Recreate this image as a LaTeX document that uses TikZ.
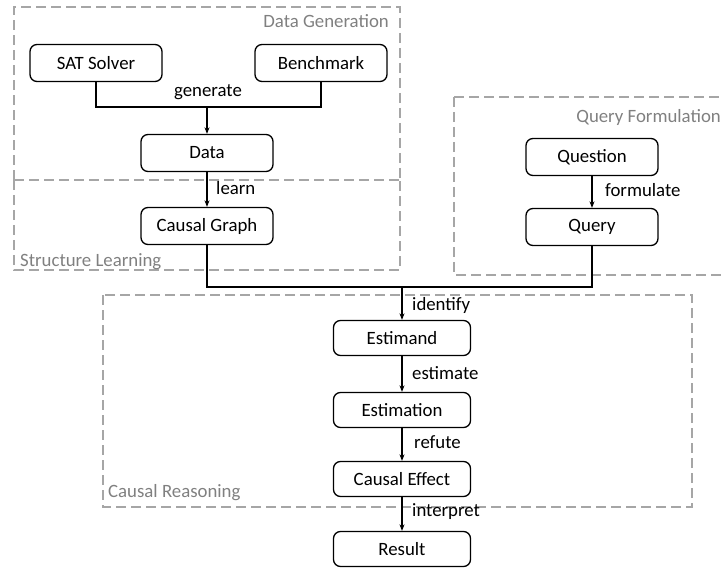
\documentclass[tikz,border=0pt]{standalone}
\usepackage{fontspec}
\setmainfont{Carlito}
\usetikzlibrary{arrows.meta}
\begin{document}
\begin{tikzpicture}[x=1pt,y=-1pt,
  every node/.style={font=\fontsize{18.8}{22}\selectfont},
  box/.style={draw,line width=1.3pt,rounded corners=7pt,minimum width=132pt,minimum height=37pt,inner sep=0pt},
  wbox/.style={box,minimum width=137pt,minimum height=35pt},
  grp/.style={draw=black!35,line width=1.3pt,dash pattern=on 10pt off 5pt},
  grplbl/.style={text=black!50,inner sep=0pt},
  conn/.style={line width=1.3pt},
  arr/.style={line width=1.3pt,-{Stealth[length=6.5pt,width=5pt]}},
  lbl/.style={inner sep=0pt}]
\useasboundingbox (0,0) rectangle (723,572);
% groups
\draw[grp] (14,180) -- (14,7) -- (400,7) -- (400,180);
\draw[grp] (14,180) -- (400,180);
\draw[grp] (14,180) -- (14,270) -- (400,270) -- (400,180);
\draw[grp] (454,97) -- (724,97);
\draw[grp] (454,97) -- (454,275) -- (724,275);
\draw[grp] (103,295) rectangle (692,507);
\node[grplbl,anchor=east] (gdg) at (389,21) {Data Generation};
\node[grplbl,anchor=west] (gsl) at (20,262) {Structure Learning};
\node[grplbl,anchor=east] (gqf) at (721,117) {Query Formulation};
\node[grplbl,anchor=west] (gcr) at (108,493) {Causal Reasoning};
% nodes
\node[box] (sat) at (96,63) {SAT Solver};
\node[box] (bench) at (321,63) {Benchmark};
\node[box] (data) at (207,153) {Data};
\node[box] (cg) at (207,226) {Causal Graph};
\node[box] (quest) at (592,157) {Question};
\node[box] (query) at (592,227) {Query};
\node[wbox] (estd) at (402,338) {Estimand};
\node[wbox] (estn) at (402,410) {Estimation};
\node[wbox] (ce) at (402,479) {Causal Effect};
\node[wbox] (res) at (402,549) {Result};
% connectors
\coordinate (j1) at (207,107);
\coordinate (j2) at (402,287);
\draw[conn] (sat.south) |- (j1) -| (bench.south);
\draw[arr] (j1) -- (data.north);
\draw[arr] (data.south) -- (cg.north);
\draw[arr] (quest.south) -- (query.north);
\draw[conn] (cg.south) |- (j2) -| (query.south);
\draw[arr] (j2) -- (estd.north);
\draw[arr] (estd) -- (estn);
\draw[arr] (estn) -- (ce);
\draw[arr] (ce) -- (res);
% labels
\node[lbl] (lgen) at (208,92) {generate};
\node[lbl,anchor=west] (llearn) at (216,188) {learn};
\node[lbl,anchor=west] (lform) at (605,190) {formulate};
\node[lbl,anchor=west] (lid) at (412,305) {identify};
\node[lbl,anchor=west] (lest) at (412,373) {estimate};
\node[lbl,anchor=west] (lref) at (414,442) {refute};
\node[lbl,anchor=west] (lint) at (412,512) {interpret};
\end{tikzpicture}
\end{document}
